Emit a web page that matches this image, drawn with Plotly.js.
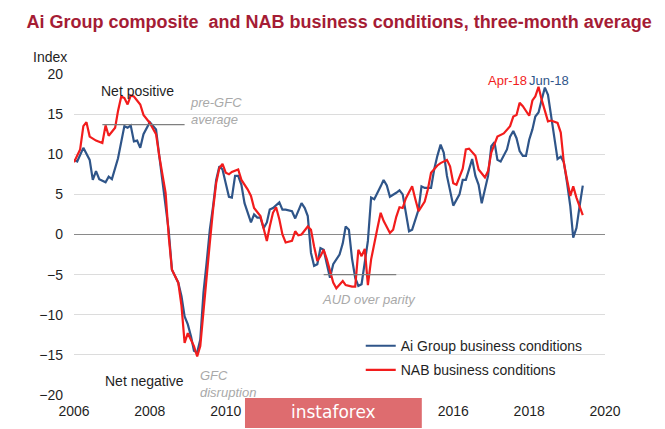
<!DOCTYPE html>
<html>
<head>
<meta charset="utf-8">
<script src="https://cdn.plot.ly/plotly-3.0.1.min.js"></script>
<style>
  body { margin: 0; background: #fff; }
  #chart { width: 665px; height: 429px; }
</style>
</head>
<body>
<div id="chart"></div>
<script>
// Ai Group composite business conditions, three-month average
const aiDates = [
  "2006-01","2006-02","2006-04","2006-06","2006-07","2006-08","2006-09","2006-11","2006-12",
  "2007-01","2007-03","2007-05","2007-06","2007-07","2007-08","2007-09","2007-10","2007-11",
  "2008-01","2008-02","2008-03","2008-04","2008-06","2008-07","2008-08","2008-10","2008-11","2008-12",
  "2009-01","2009-02","2009-03","2009-04","2009-05","2009-06","2009-07","2009-08","2009-09","2009-10","2009-11","2009-12",
  "2010-01","2010-02","2010-03","2010-04","2010-05","2010-06","2010-07","2010-09","2010-10","2010-11","2010-12",
  "2011-01","2011-02","2011-03","2011-04","2011-06","2011-07","2011-08","2011-10","2011-11",
  "2012-01","2012-02","2012-03","2012-04","2012-05","2012-06","2012-07","2012-08","2012-09","2012-10","2012-11",
  "2013-01","2013-02","2013-03","2013-04","2013-05","2013-06","2013-07","2013-08","2013-10","2013-11","2013-12",
  "2014-02","2014-03","2014-04","2014-05","2014-07","2014-08","2014-09","2014-10","2014-11","2014-12",
  "2015-02","2015-03","2015-04","2015-06","2015-07","2015-08","2015-09","2015-10","2015-11",
  "2016-01","2016-03","2016-04","2016-05","2016-07","2016-08","2016-09","2016-10","2016-12",
  "2017-01","2017-02","2017-03","2017-04","2017-06","2017-07","2017-08","2017-09","2017-10","2017-11","2017-12",
  "2018-01","2018-02","2018-03","2018-04","2018-05","2018-06","2018-07","2018-08","2018-09","2018-10","2018-11","2018-12",
  "2019-01","2019-02","2019-03","2019-04","2019-05","2019-06"
];
const aiValues = [
  9.3, 9.1, 10.8, 9.3, 6.8, 7.9, 6.9, 6.5, 7.2,
  6.9, 9.5, 13.5, 13.3, 13.6, 11.6, 11.7, 10.8, 12.5,
  14.0, 13.5, 13.1, 9.8, 3.1, 0.5, -4.4, -6.0, -7.7, -10.2,
  -11.2, -12.7, -14.5, -14.7, -13.1, -7.2, -3.5, 0.6, 3.5, 6.8, 8.5, 8.1,
  6.4, 4.7, 4.6, 7.3, 7.3, 6.2, 3.9, 1.5, 2.5, 2.1, 2.1,
  0.8, 1.5, 3.1, 3.3, 4.0, 3.1, 3.1, 2.9, 2.0,
  3.9, 3.3, 2.3, -2.3, -3.9, -3.7, -1.7, -1.9, -3.7, -5.4, -3.7,
  -2.5, -1.1, 1.0, 0.6, -3.0, -5.4, -6.4, -6.2, -0.8, 4.6, 4.4,
  6.0, 6.8, 6.1, 4.7, 5.2, 5.5, 5.0, 2.9, 0.4, 0.6,
  3.1, 6.0, 5.8, 5.8, 8.1, 9.8, 11.2, 10.2, 7.3,
  3.6, 5.0, 6.8, 6.8, 9.4, 7.3, 6.2, 3.9, 7.3,
  11.0, 11.5, 9.3, 9.1, 10.6, 12.2, 12.9, 12.0, 10.4, 9.8, 9.8,
  11.8, 13.1, 14.7, 15.2, 16.8, 18.3, 17.4, 14.7, 11.5, 9.4, 9.7, 9.0,
  6.4, 3.5, -0.4, 0.8, 3.5, 6.1
];

// NAB business conditions, three-month average
const nabDates = [
  "2006-01","2006-03","2006-04","2006-05","2006-06","2006-08","2006-10","2006-11","2006-12",
  "2007-02","2007-03","2007-04","2007-05","2007-06","2007-07","2007-08","2007-10","2007-11",
  "2008-01","2008-03","2008-04","2008-06","2008-07","2008-08","2008-10","2008-11","2008-12",
  "2009-01","2009-03","2009-04","2009-05","2009-06","2009-07","2009-08","2009-09","2009-10","2009-11","2009-12",
  "2010-01","2010-02","2010-03","2010-04","2010-05","2010-06","2010-08","2010-09","2010-10","2010-12",
  "2011-01","2011-02","2011-03","2011-04","2011-05","2011-06","2011-07","2011-08","2011-10","2011-11","2011-12",
  "2012-01","2012-03","2012-04","2012-05","2012-06","2012-07","2012-08","2012-09","2012-10","2012-11","2012-12",
  "2013-02","2013-03","2013-05","2013-06","2013-07","2013-08","2013-09","2013-10","2013-11",
  "2014-01","2014-02","2014-03","2014-05","2014-06","2014-07","2014-08","2014-09","2014-10","2014-12",
  "2015-01","2015-02","2015-04","2015-05","2015-06","2015-08","2015-09","2015-11","2015-12",
  "2016-01","2016-02","2016-04","2016-05","2016-06","2016-08","2016-09","2016-11","2016-12",
  "2017-01","2017-03","2017-05","2017-06","2017-07","2017-08","2017-09","2017-10","2017-11",
  "2018-01","2018-02","2018-03","2018-04","2018-05","2018-07","2018-08","2018-10","2018-11","2018-12",
  "2019-01","2019-02","2019-03","2019-04","2019-06"
];
const nabValues = [
  9.0, 10.6, 13.5, 14.0, 12.2, 11.7, 11.4, 13.6, 12.3,
  13.3, 15.4, 17.2, 17.0, 16.2, 17.3, 17.2, 16.2, 14.9,
  13.9, 12.5, 9.8, 5.2, -0.2, -4.4, -6.0, -8.9, -13.5,
  -12.3, -13.9, -15.2, -13.9, -9.3, -5.2, -1.0, 3.1, 6.4, 8.3, 8.8,
  7.7, 7.5, 7.8, 8.0, 8.1, 6.8, 5.6, 4.8, 3.3, 2.3,
  0.6, -0.8, 1.0, 2.7, 3.4, 1.9, 0.0, -1.0, -0.8, 0.4, -0.1,
  0.0, 1.0, 0.6, -1.5, -3.3, -2.7, -1.9, -3.1, -4.6, -6.0, -6.7,
  -5.8, -6.3, -6.5, -6.5, -1.9, -2.7, -1.8, -6.3, -3.1,
  0.8, 2.7, 1.7, 0.2, 0.6, 2.2, 3.4, 3.3, 4.5, 6.0,
  4.4, 2.9, 4.1, 5.6, 7.7, 8.6, 8.9, 9.3, 8.5,
  6.4, 6.2, 8.2, 10.6, 10.7, 9.8, 8.1, 7.1, 7.9,
  10.2, 12.2, 12.6, 13.0, 13.5, 14.7, 14.9, 16.4, 16.0,
  14.8, 16.7, 17.2, 18.4, 16.8, 14.1, 14.2, 13.9, 12.7, 8.9,
  6.8, 4.8, 6.0, 4.6, 2.4
];

// reference levels marked on the chart
const preGfcDates = ["2006-10", "2008-12"];
const preGfcAverage = [13.7, 13.7];
const audParityDates = ["2012-08", "2014-07"];
const audParityLevel = [-5, -5];

const yTicks = [-20, -15, -10, -5, 0, 5, 10, 15, 20];
// year labels left visible (2012 and 2014 sit under the watermark)
const xTickDates = ["2006-01-01", "2008-01-01", "2010-01-01", "2016-01-01", "2018-01-01", "2020-01-01"];
const xTickLabels = ["2006", "2008", "2010", "2016", "2018", "2020"];
const xRange = ["2006-01-01", "2020-01-01"];

const colors = {
  ai: "#2f5589",
  nab: "#f21c1c",
  title: "#a51c35",
  text: "#1f1f1f",
  note: "#a9a9a9",
  grid: "#dcdcdc",
  axis: "#8a8a8a",
};
const fontFamily = "Liberation Sans, Arial, sans-serif";

const traceAi = {
  name: "Ai Group business conditions",
  x: aiDates,
  y: aiValues,
  type: "scatter",
  mode: "lines",
  line: { color: colors.ai, width: 2.2 },
  legendgroup: "ai",
};
const traceNab = {
  name: "NAB business conditions",
  x: nabDates,
  y: nabValues,
  type: "scatter",
  mode: "lines",
  line: { color: colors.nab, width: 2.2 },
  legendgroup: "nab",
};
const tracePreGfc = {
  x: preGfcDates,
  y: preGfcAverage,
  type: "scatter",
  mode: "lines",
  line: { color: "#7f7f7f", width: 1.3 },
  showlegend: false,
  hoverinfo: "skip",
};
const traceAud = {
  x: audParityDates,
  y: audParityLevel,
  type: "scatter",
  mode: "lines",
  line: { color: "#7f7f7f", width: 1.3 },
  showlegend: false,
  hoverinfo: "skip",
};

const note = (text, x, y, opts) => Object.assign({
  text: text, x: x, y: y, xref: "paper", yref: "paper",
  xanchor: "center", yanchor: "middle",
  showarrow: false, font: { family: fontFamily, size: 14, color: colors.text },
}, opts || {});

const layout = {
  width: 665,
  height: 429,
  margin: { l: 74, r: 60, t: 74, b: 34 },
  paper_bgcolor: "#fff",
  plot_bgcolor: "#fff",
  font: { family: fontFamily, size: 14, color: colors.text },
  title: {
    text: "<b>Ai Group composite  and NAB business conditions, three-month average</b>",
    font: { family: fontFamily, size: 18, color: colors.title },
    xref: "container", x: 0.51, xanchor: "center",
    yref: "container", y: 0.949, yanchor: "middle",
  },
  showlegend: true,
  legend: {
    x: 0.54, y: 0.202, xanchor: "left", yanchor: "top",
    bgcolor: "rgba(0,0,0,0)",
    font: { family: fontFamily, size: 14, color: colors.text },
    tracegroupgap: 3,
  },
  xaxis: {
    type: "date",
    range: xRange,
    tickvals: xTickDates,
    ticktext: xTickLabels,
    showgrid: false,
    zeroline: false,
    showline: false,
    ticks: "",
    ticklabelstandoff: 6,
    tickfont: { size: 14, color: colors.text },
  },
  // tick marks sitting on the zero line
  xaxis2: {
    type: "date",
    overlaying: "x",
    anchor: "free",
    position: 0.5,
    range: xRange,
    dtick: "M24",
    tick0: "2006-01-01",
    showgrid: false,
    zeroline: false,
    showline: false,
    ticks: "outside",
    ticklen: 4,
    tickcolor: colors.axis,
    showticklabels: false,
  },
  yaxis: {
    range: [-20, 20],
    tickvals: yTicks,
    gridcolor: colors.grid,
    gridwidth: 1,
    zeroline: true,
    zerolinecolor: colors.axis,
    zerolinewidth: 1.3,
    showline: false,
    ticks: "",
    ticklabelstandoff: 10,
    tickfont: { size: 14, color: colors.text },
  },
  annotations: [
    note("Index", -0.045, 1.053),
    note("Net positive", 0.1205, 0.947),
    note("<i>pre-GFC<br>average</i>", 0.2147, 0.885,
      { xanchor: "left", align: "left", font: { family: fontFamily, size: 13, color: colors.note } }),
    note("Net negative", 0.1337, 0.0436),
    note("<i>GFC<br>disruption</i>", 0.2335, 0.0358,
      { xanchor: "left", align: "left", font: { family: fontFamily, size: 13, color: colors.note } }),
    note("<i>AUD over parity</i>", 0.5556, 0.296,
      { font: { family: fontFamily, size: 13, color: colors.note } }),
    note("Apr-18", 0.8173, 0.981, { font: { family: fontFamily, size: 13, color: colors.nab } }),
    note("Jun-18", 0.8945, 0.981, { font: { family: fontFamily, size: 13, color: colors.ai } }),
    note("instaforex", 0.488, -0.053,
      { font: { family: "DejaVu Sans, sans-serif", size: 17, color: "#ffffff" } }),
  ],
  shapes: [
    {
      type: "rect", xref: "paper", yref: "paper", layer: "above",
      x0: 0.322, x1: 0.655, y0: -0.1028, y1: -0.0093,
      fillcolor: "#de6c6f", line: { width: 0 },
    },
  ],
};

Plotly.newPlot("chart", [traceAi, traceNab, tracePreGfc, traceAud], layout, { staticPlot: true });
</script>
</body>
</html>
